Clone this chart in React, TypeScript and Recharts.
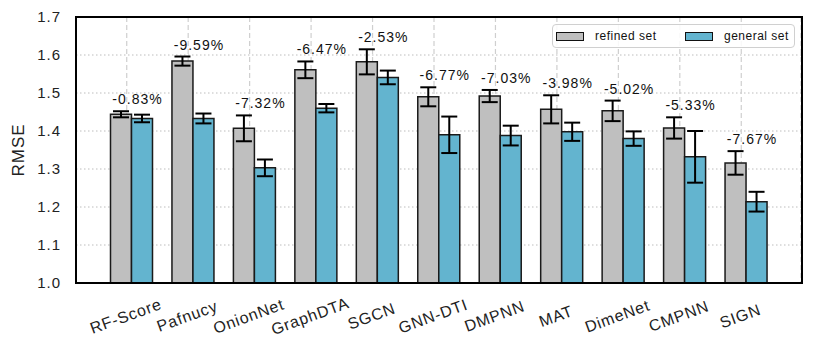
import React from 'react';
import { BarChart, Bar, XAxis, YAxis, CartesianGrid, ErrorBar, LabelList } from 'recharts';

const categories = ['RF-Score', 'Pafnucy', 'OnionNet', 'GraphDTA', 'SGCN', 'GNN-DTI', 'DMPNN', 'MAT', 'DimeNet', 'CMPNN', 'SIGN'];
const refined = [1.444, 1.584, 1.407, 1.561, 1.582, 1.49, 1.492, 1.457, 1.453, 1.408, 1.316];
const refinedErr = [0.008, 0.012, 0.034, 0.022, 0.033, 0.025, 0.016, 0.037, 0.027, 0.028, 0.031];
const general = [1.433, 1.433, 1.303, 1.46, 1.541, 1.39, 1.388, 1.398, 1.38, 1.332, 1.214];
const generalErr = [0.01, 0.013, 0.022, 0.011, 0.018, 0.048, 0.026, 0.024, 0.019, 0.068, 0.026];
const changes = ['-0.83%', '-9.59%', '-7.32%', '-6.47%', '-2.53%', '-6.77%', '-7.03%', '-3.98%', '-5.02%', '-5.33%', '-7.67%'];
const yTicks = [1.0, 1.1, 1.2, 1.3, 1.4, 1.5, 1.6, 1.7];

const data = categories.map((name, i) => ({
  name,
  refined: refined[i],
  refinedErr: refinedErr[i],
  general: general[i],
  generalErr: generalErr[i],
  change: changes[i],
}));

const FONT = '"Liberation Sans", Arial, Helvetica, sans-serif';
const GRAY = '#bfbfbf';
const BLUE = '#63b4cf';

// percentage text sits just above the refined-set error bar
function PctLabel(props: any) {
  const vb = props.viewBox ?? props;
  const { x, y, width, height } = vb;
  const i = props.index;
  const pxPerUnit = height / (refined[i] - 1);
  const top = y - refinedErr[i] * pxPerUnit;
  return (
    <text x={x + width + 6} y={top - 7} textAnchor="middle" fontSize={14} letterSpacing={1} fill="#111" fontFamily={FONT}>
      {changes[i]}
    </text>
  );
}

function XTick(props: any) {
  const { x, y, payload } = props;
  return (
    <g transform={`translate(${x - 1},${y + 25}) rotate(-20)`}>
      <text textAnchor="middle" dy="0.35em" fontSize={16} letterSpacing={0.8} fill="#222" fontFamily={FONT}>
        {payload.value}
      </text>
    </g>
  );
}

function LegendBox() {
  const sw = (c: string) => (
    <span style={{ display: 'inline-block', width: 26, height: 7, background: c, border: '1.5px solid #111', marginRight: 11 }} />
  );
  return (
    <div
      style={{
        position: 'absolute', left: 552, top: 24, width: 241, height: 22,
        border: '1px solid #d0d0d0', borderRadius: 4, background: 'rgba(255,255,255,0.85)',
        display: 'flex', alignItems: 'center', fontFamily: FONT, fontSize: 12, letterSpacing: 0.5, color: '#111',
      }}
    >
      <span style={{ marginLeft: 3, display: 'flex', alignItems: 'center', width: 129 }}>{sw(GRAY)}refined set</span>
      <span style={{ display: 'flex', alignItems: 'center' }}>{sw(BLUE)}general set</span>
    </div>
  );
}

export default function App() {
  return (
    <div style={{ position: 'absolute', left: 0, top: 0, width: 813, height: 354, background: '#fff', fontFamily: FONT }}>
      <BarChart width={813} height={354} data={data} margin={{ top: 17, right: 12, left: 16, bottom: 11 }} barGap={0} barSize={21}>
        <CartesianGrid xAxisId="labels" vertical={false} stroke="#bdbdbd" strokeDasharray="1.5 2.5" />
        <CartesianGrid xAxisId="labels" horizontal={false} stroke="#cfcfcf" strokeDasharray="5 3" strokeWidth={1.2} />
        <XAxis xAxisId="bars" dataKey="name" hide height={0} padding={{ left: 24.5, right: 24.5 }} />
        <XAxis
          xAxisId="labels"
          dataKey="name"
          height={60}
          padding={{ left: 20, right: 29 }}
          tick={<XTick />}
          tickLine={false}
          axisLine={false}
          interval={0}
        />
        <YAxis
          domain={[1, 1.7]}
          ticks={yTicks}
          tickFormatter={(v: number) => v.toFixed(1)}
          width={60}
          tickLine={false}
          tickMargin={9}
          axisLine={false}
          tick={{ fontSize: 15, fill: '#222', fontFamily: FONT, letterSpacing: 1 }}
          label={{ value: 'RMSE', angle: -90, position: 'insideLeft', offset: 2, style: { fontSize: 17, fill: '#222', fontFamily: FONT, letterSpacing: 1, textAnchor: 'middle' } }}
        />
        <Bar xAxisId="bars" dataKey="refined" fill={GRAY} stroke="#1a1a1a" strokeWidth={1.5} isAnimationActive={false}>
          <ErrorBar dataKey="refinedErr" width={8} stroke="#000" strokeWidth={2} direction="y" isAnimationActive={false} />
          <LabelList dataKey="change" content={<PctLabel />} />
        </Bar>
        <Bar xAxisId="bars" dataKey="general" fill={BLUE} stroke="#1a1a1a" strokeWidth={1.5} isAnimationActive={false}>
          <ErrorBar dataKey="generalErr" width={8} stroke="#000" strokeWidth={2} direction="y" isAnimationActive={false} />
        </Bar>
      </BarChart>
      <div style={{ position: 'absolute', left: 75, top: 16, width: 728, height: 268, border: '2px solid #000', boxSizing: 'border-box', pointerEvents: 'none' }} />
      <LegendBox />
    </div>
  );
}
